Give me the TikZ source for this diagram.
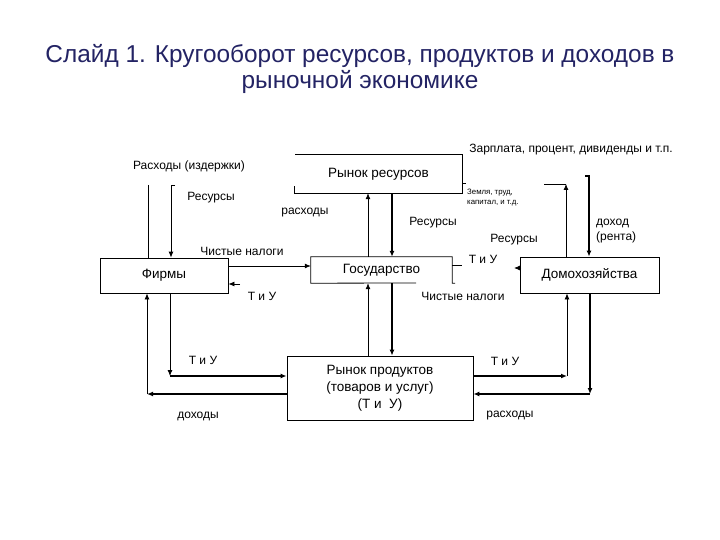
\documentclass[tikz,border=0pt]{standalone}
\usepackage{fontspec}
\setmainfont{Liberation Sans}
\usetikzlibrary{arrows.meta}
\definecolor{titleblue}{RGB}{35,35,100}
\begin{document}
\begin{tikzpicture}[x=1pt,y=-1pt,
  lbl/.style={font=\fontsize{12}{15}\selectfont, inner sep=0pt},
  tiny/.style={font=\fontsize{7.8}{10}\selectfont, inner sep=0pt, align=left},
  ttl/.style={font=\fontsize{24.4}{28}\selectfont, text=titleblue, inner sep=0pt},
  box/.style={font=\fontsize{13.5}{17}\selectfont, inner sep=0pt, align=center},
  ln/.style={line width=0.8pt},
  thk/.style={line width=1.7pt},
  arr/.style={-{Latex[length=6pt,width=5pt]}},
]
\useasboundingbox (0,0) rectangle (720,540);

% title
\node[ttl] (t1) at (360,56) {Слайд 1. Кругооборот ресурсов, продуктов и доходов в};
\node[ttl] (t2) at (360,82) {рыночной экономике};

% boxes
\node[box, minimum width=167pt, minimum height=38pt] (rr) at (378.5,174) {Рынок ресурсов};
\draw[ln] ([yshift=7pt]rr.south west) -- (rr.south west) -- (rr.south east) -- (rr.north east) -- (rr.north west);

\node[box, draw, ln, minimum width=128pt, minimum height=35pt] (f) at (164,275.5) {Фирмы};

\node[box, minimum width=141pt, minimum height=26pt] (g) at (381.5,270) {Государство};
\coordinate (gb) at (416,283);
\draw[ln] (gb) -- (g.south west) -- (g.north west) -- (g.north east) -- (g.south east) -- ++(3,0);

\node[box, draw, ln, minimum width=139pt, minimum height=36pt] (h) at (589.5,275) {Домохозяйства};

\node[box, draw, ln, minimum width=186pt, minimum height=64pt] (p) at (380,388) {Рынок продуктов\\(товаров и услуг)\\(Т и~~У)};

% firm top
\coordinate (fa) at (148,185);
\coordinate (fb) at (171,185);
\draw[ln] (fa) -- (fa |- f.north);
\draw[ln,arr] ([xshift=4pt]fb) -- (fb) -- (fb |- f.north);

% firm bottom
\coordinate (fc) at (147,394);
\coordinate (fd) at (170,376);
\draw[thk,arr] (p.west |- fc) -- (fc);
\draw[ln,arr] (fc) -- (fc |- f.south);
\draw[ln,arr] (fd |- f.south) -- (fd);
\draw[thk,arr] (fd) -- (p.west |- fd);

% firm -> government
\coordinate (fe) at (228,266);
\draw[ln,arr] (fe) -- (g.west |- fe);
\coordinate (ff) at (240,284);
\draw[ln,arr] (ff) -- (f.east |- ff);

% government top / bottom
\coordinate (ga) at (368,0);
\coordinate (gc) at (392,0);
\draw[ln,arr] (ga |- g.north) -- (ga |- rr.south);
\draw[thk,arr] (gc |- rr.south) -- (gc |- g.north);
\draw[ln,arr] (ga |- p.north) -- (ga |- g.south);
\draw[thk,arr] (gc |- g.south) -- (gc |- p.north);

% government right / household left stubs
\coordinate (gr) at (452,265);
\draw[ln] (gr) -- ++(10,0);
\coordinate (hl) at (521,268);
\draw[ln,arr] (hl) -- ++(-7,0);

% small tick at resource market
\coordinate (rt) at (462,183);
\draw[ln] (rt) -- ++(4,0);

% household top
\coordinate (ha) at (566,184);
\draw[ln,arr] (ha |- h.north) -- (ha);
\draw[ln] (ha) -- ++(-22,0);
\coordinate (hb) at (589,176);
\draw[thk,arr] ([xshift=-4pt]hb) -- (hb) -- (hb |- h.north);

% household bottom
\coordinate (hc) at (567,376);
\draw[thk,arr] (p.east |- hc) -- (hc);
\draw[ln,arr] (hc) -- (hc |- h.south);
\coordinate (hd) at (590,394);
\draw[thk,arr] (hd |- h.south) -- (hd);
\draw[thk,arr] (hd) -- (p.east |- hd);

% labels
\node[lbl] (l1) at (189,166) {Расходы (издержки)};
\node[lbl] (l2) at (571,150) {Зарплата, процент, дивиденды и т.п.};
\node[lbl] (l3) at (211,198) {Ресурсы};
\node[lbl] (l4) at (305,213) {расходы};
\node[lbl] (l5) at (242,251) {Чистые налоги};
\node[lbl] (l6) at (262,296) {Т и У};
\node[lbl] (l7) at (433,223) {Ресурсы};
\node[lbl] (l8) at (514,240) {Ресурсы};
\node[lbl, anchor=west, align=left] (l9) at (596,231) {доход\\(рента)};
\node[lbl] (l10) at (483,259) {Т и У};
\node[lbl] (l11) at (463,296) {Чистые налоги};
\node[tiny, anchor=west] (l12) at (467,198) {Земля, труд,\\капитал, и т.д.};
\node[lbl] (l13) at (203,360) {Т и У};
\node[lbl] (l14) at (198,416) {доходы};
\node[lbl] (l15) at (505,361) {Т и У};
\node[lbl] (l16) at (510,416) {расходы};
\end{tikzpicture}
\end{document}
